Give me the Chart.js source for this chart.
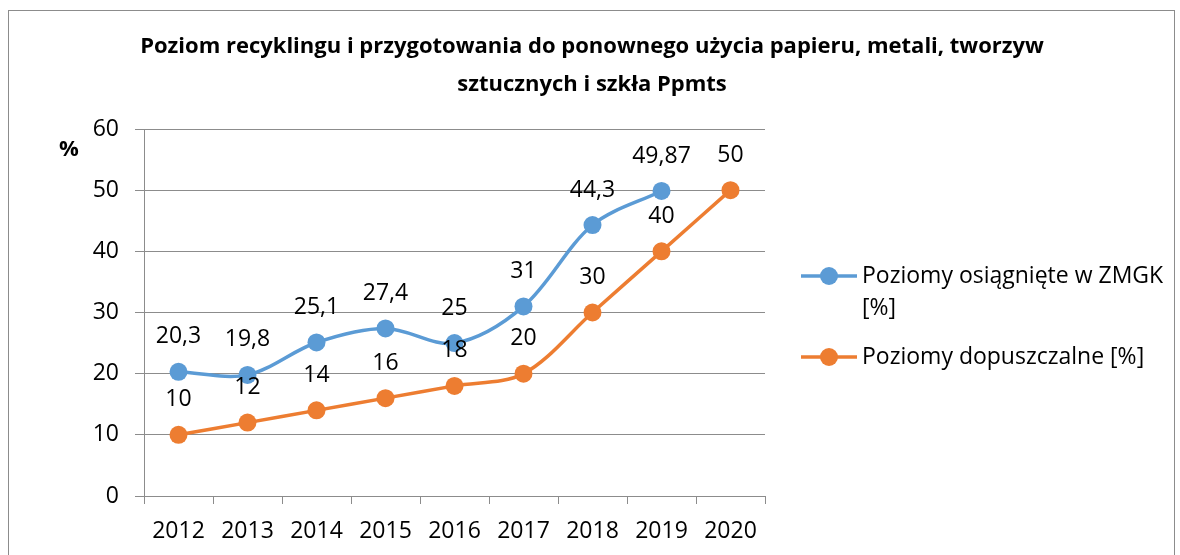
<!DOCTYPE html>
<html>
<head>
<meta charset="utf-8">
<title>Ppmts</title>
<script src="https://cdn.jsdelivr.net/npm/chart.js@4"></script>
<style>
  body { margin: 0; background: #fff; }
  #wrap { position: relative; width: 1180px; height: 555px; }
</style>
</head>
<body>
<div id="wrap"><canvas id="lineChart" width="1180" height="555"></canvas></div>
<script>
'use strict';

var years = ['2012', '2013', '2014', '2015', '2016', '2017', '2018', '2019', '2020'];
var achieved = [20.3, 19.8, 25.1, 27.4, 25, 31, 44.3, 49.87, null];
var allowed = [10, 12, 14, 16, 18, 20, 30, 40, 50];
var seriesNames = [['Poziomy osiągnięte w ZMGK', '[%]'], ['Poziomy dopuszczalne [%]']];
var titleLines = ['Poziom recyklingu i przygotowania do ponownego użycia papieru, metali, tworzyw', 'sztucznych i szkła Ppmts'];

var FONT = '"Open Sans", "Noto Sans", sans-serif';
var BLUE = '#5B9BD5';
var ORANGE = '#ED7D31';

// frame, title, % label, data labels and legend
var extras = {
    id: 'extras',
    beforeDraw: function(chart) {
        var ctx = chart.ctx;
        ctx.save();
        ctx.fillStyle = '#fff';
        ctx.fillRect(0, 0, chart.width, chart.height);
        ctx.strokeStyle = '#8c8c8c';
        ctx.lineWidth = 1;
        ctx.strokeRect(8.5, 10.5, 1166, 560);
        ctx.restore();
    },
    afterDraw: function(chart) {
        var ctx = chart.ctx;
        ctx.save();
        ctx.fillStyle = '#000';
        ctx.textAlign = 'center';
        ctx.textBaseline = 'middle';
        ctx.font = 'bold 22px ' + FONT;
        ctx.fillText(titleLines[0], 592, 47);
        ctx.fillText(titleLines[1], 592, 85);
        ctx.fillText('%', 69, 150);

        ctx.font = '23px ' + FONT;
        chart.data.datasets.forEach(function(ds, i) {
            var meta = chart.getDatasetMeta(i);
            meta.data.forEach(function(pt, j) {
                if (ds.data[j] === null) return;
                var txt = String(ds.data[j]).replace('.', ',');
                ctx.fillText(txt, pt.x, pt.y - 35);
            });
        });

        // legend
        var lx = 801, colors = [BLUE, ORANGE], ys = [276, 357];
        ctx.textAlign = 'left';
        for (var k = 0; k < 2; k++) {
            ctx.strokeStyle = colors[k];
            ctx.lineWidth = 3.5;
            ctx.beginPath();
            ctx.moveTo(lx, ys[k]);
            ctx.lineTo(lx + 56, ys[k]);
            ctx.stroke();
            ctx.fillStyle = colors[k];
            ctx.beginPath();
            ctx.arc(lx + 28, ys[k], 9, 0, Math.PI * 2);
            ctx.fill();
            ctx.fillStyle = '#000';
            seriesNames[k].forEach(function(line, n) {
                ctx.fillText(line, lx + 61, ys[k] + n * 32);
            });
        }
        ctx.restore();
    }
};

var ctx = document.getElementById('lineChart').getContext('2d');
var lineChart = new Chart(ctx, {
    type: 'line',
    data: {
        labels: years,
        datasets: [{
            label: seriesNames[0].join(' '),
            data: achieved,
            borderColor: BLUE,
            backgroundColor: BLUE,
            borderWidth: 3.5,
            pointRadius: 9,
            pointBorderWidth: 0,
            tension: 0.33
        }, {
            label: seriesNames[1][0],
            data: allowed,
            borderColor: ORANGE,
            backgroundColor: ORANGE,
            borderWidth: 3.5,
            pointRadius: 9,
            pointBorderWidth: 0,
            tension: 0.33
        }]
    },
    options: {
        responsive: false,
        animation: false,
        events: [],
        layout: { padding: { left: 0, top: 129, right: 415, bottom: 0 } },
        plugins: {
            legend: { display: false },
            title: { display: false },
            tooltip: { enabled: false }
        },
        scales: {
            x: {
                offset: true,
                afterFit: function(scale) { scale.height = 59; },
                grid: {
                    offset: true,
                    drawOnChartArea: false,
                    drawTicks: true,
                    tickLength: 8,
                    color: '#8c8c8c'
                },
                border: { color: '#8c8c8c', width: 1 },
                ticks: { color: '#000', font: { family: FONT, size: 23 }, padding: 14, maxRotation: 0 }
            },
            y: {
                min: 0,
                max: 60,
                afterFit: function(scale) { scale.width = 144; },
                grid: { color: '#8c8c8c', tickLength: 9 },
                border: { color: '#8c8c8c', width: 1 },
                ticks: { stepSize: 10, color: '#000', font: { family: FONT, size: 23 }, padding: 16 }
            }
        }
    },
    plugins: [extras]
});
</script>
</body>
</html>
